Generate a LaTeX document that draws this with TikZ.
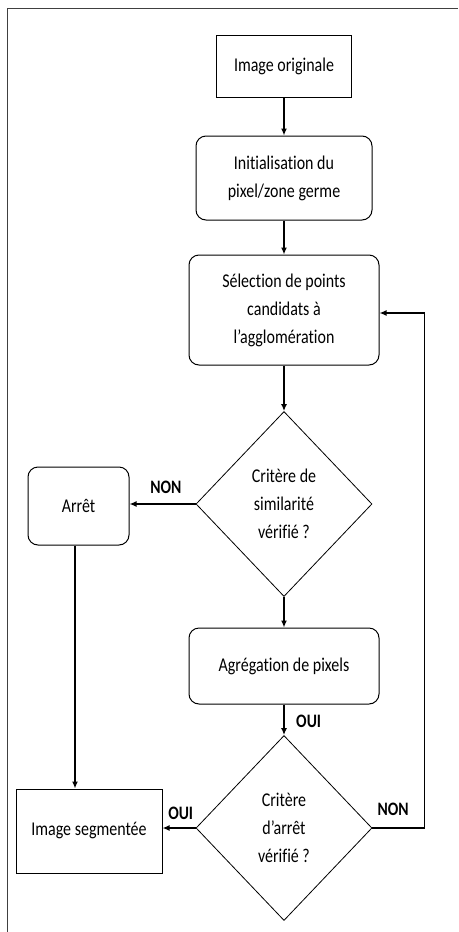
\documentclass[tikz,border=0pt]{standalone}
\usepackage{fontspec}
\setmainfont{Carlito}[FakeStretch=0.82, Ligatures=NoCommon]
\usepackage{tikz}
\usetikzlibrary{positioning,shapes.geometric,arrows.meta}

\tikzset{
  box/.style={draw, line width=1pt, align=center, inner sep=0pt},
  rbox/.style={box, rounded corners=10pt},
  decision/.style={draw, diamond, line width=0.8pt, align=center, inner sep=0pt,
    minimum width=176pt, minimum height=185pt},
  flow/.style={line width=1.8pt, -{Latex[length=7pt,width=6pt]}},
  lbl/.style={font=\fontsize{19}{22}\selectfont\bfseries}
}

\begin{document}
\begin{tikzpicture}[x=1pt, y=1pt, font=\fontsize{19.5}{28}\selectfont]
      \useasboundingbox (0,0) rectangle (458,-932);
      \draw[line width=1pt, black!75] (7,-932) -- (7,-8) -- (458,-8);

      \node[box, minimum width=135pt, minimum height=62pt] (Orig) at (284,-66) {Image originale};
      \node[rbox, on grid, below=112pt of Orig, minimum width=176pt, minimum height=84pt] (Init)
        {Initialisation du\\pixel/zone germe};
      \node[rbox, on grid, below=132pt of Init, minimum width=190pt, minimum height=110pt] (Select)
        {Sélection de points\\candidats à\\l’agglomération};
      \node[decision, on grid, below=194pt of Select] (Crit) {Critère de\\similarité\\vérifié ?};
      \node[rbox, on grid, below left=2pt and 205.5pt of Crit, minimum width=101pt, minimum height=78pt] (Stop)
        {Arrêt};
      \node[rbox, on grid, below=162pt of Crit, minimum width=190pt, minimum height=76pt] (Aggr)
        {Agrégation de pixels};
      \node[decision, on grid, below=162pt of Aggr] (StopCrit) {Critère\\d’arrêt\\vérifié ?};
      \node[box, on grid, below left=3pt and 195pt of StopCrit, minimum width=146pt, minimum height=84pt] (Seg)
        {Image segmentée};

      \draw[flow] (Orig) -- (Init);
      \draw[flow] (Init) -- (Select);
      \draw[flow] (Select) -- (Crit);
      \draw[flow] (Crit.west) -- (Crit.west -| Stop.east) node[lbl, pos=0.45, above=6pt] {NON};
      \draw[flow] (Crit) -- (Aggr);
      \draw[flow] (Aggr) -- (StopCrit) node[lbl, pos=0.55, right=8pt] {OUI};
      \draw[flow] (Stop.south -| 75,0) -- (Seg.north -| 75,0);
      \draw[flow] (StopCrit.west) -- (StopCrit.west -| Seg.east) node[lbl, pos=0.45, above=4pt] {OUI};
      \draw[flow] (StopCrit.east) -- ++(52,0) node[lbl, pos=0.4, above=8pt] {NON}
        |- (Select.east |- 0,-313);
    \end{tikzpicture}
\end{document}
